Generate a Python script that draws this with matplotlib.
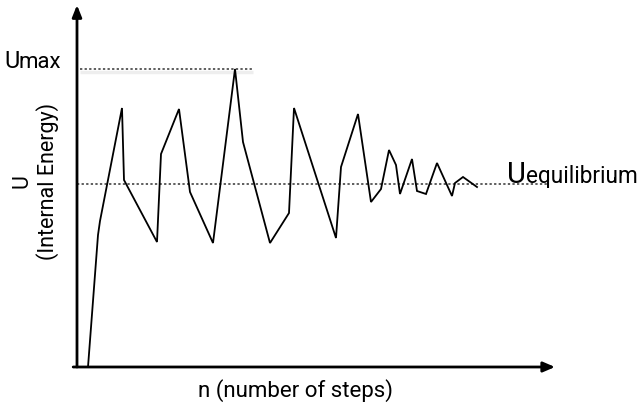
import matplotlib
matplotlib.use("Agg")
import matplotlib.pyplot as plt

plt.rcParams['font.family'] = ['Roboto', 'DejaVu Sans']

# steps (n) and internal energy (U), arbitrary units
n_steps = [1.1, 2.1, 2.3, 4.5, 4.7, 8.0, 8.4, 10.2, 11.3, 13.6, 15.8, 16.6, 19.3, 21.2, 21.7,
           25.9, 26.4, 28.1, 29.4, 30.4, 31.2, 31.9, 32.3, 33.5, 34.0, 34.9, 36.0,
           37.5, 37.8, 38.6, 40.0]
energy = [0.0, 13.2, 14.6, 25.9, 18.7, 12.5, 21.3, 25.8, 17.5, 12.4, 29.8, 22.5, 12.4, 15.4, 25.9,
          12.9, 20.0, 25.3, 16.5, 17.8, 21.7, 20.2, 17.3, 20.8, 17.6, 17.3, 20.4,
          17.1, 18.4, 19.0, 18.0]
u_max = 29.8
u_eq = 18.35
umax_line_end = 17.6
ueq_line_end = 47.1

W, H = 640, 404
fig = plt.figure(figsize=(W / 100, H / 100), dpi=100)
ax = fig.add_axes([77 / W, 37 / H, (555 - 77) / W, (367 - 5) / H])
ax.set_xlim(0, 47.8)
ax.set_ylim(0, 36.2)
ax.axis('off')

# axes with arrows
ax.annotate('', xy=(0, 1), xytext=(0, -0.0), xycoords='axes fraction',
            arrowprops=dict(arrowstyle='-|>,head_length=0.7,head_width=0.28', lw=2.0,
                            color='black', shrinkA=0, shrinkB=0))
ax.annotate('', xy=(1, 0), xytext=(-0.008, 0), xycoords='axes fraction',
            arrowprops=dict(arrowstyle='-|>,head_length=0.7,head_width=0.3', lw=2.0,
                            color='black', shrinkA=0, shrinkB=0))

# reference lines
ax.plot([0.3, umax_line_end], [u_max - 0.3, u_max - 0.3], color='#eeeeee', lw=2.5,
        solid_capstyle='butt', zorder=1)
ax.plot([0.3, umax_line_end], [u_max, u_max], color='#333333', lw=1.1,
        linestyle=(0, (1.5, 1.5)), zorder=2)
ax.plot([0, ueq_line_end], [u_eq, u_eq], color='#333333', lw=1.1,
        linestyle=(0, (1.5, 1.5)), zorder=2)

# energy curve
ax.plot(n_steps, energy, color='black', lw=1.3, solid_joinstyle='miter', zorder=3)

# labels
fig.text(4 / W, 1 - 68 / H, 'U', fontsize=17, ha='left', va='baseline')
fig.text(19 / W, 1 - 68 / H, 'max', fontsize=16, ha='left', va='baseline')
fig.text(507 / W, 1 - 183 / H, 'U', fontsize=21, ha='left', va='baseline')
fig.text(526 / W, 1 - 183 / H, 'equilibrium', fontsize=16.3, ha='left', va='baseline')

fig.text(35 / W, 1 - 181 / H, 'U\n(Internal Energy)', fontsize=15.5, rotation=90,
         ha='center', va='center', multialignment='center', linespacing=1.2)
fig.text(296 / W, 1 - 391 / H, 'n (number of steps)', fontsize=16,
         ha='center', va='center')

fig.savefig('out.png', dpi=100)
